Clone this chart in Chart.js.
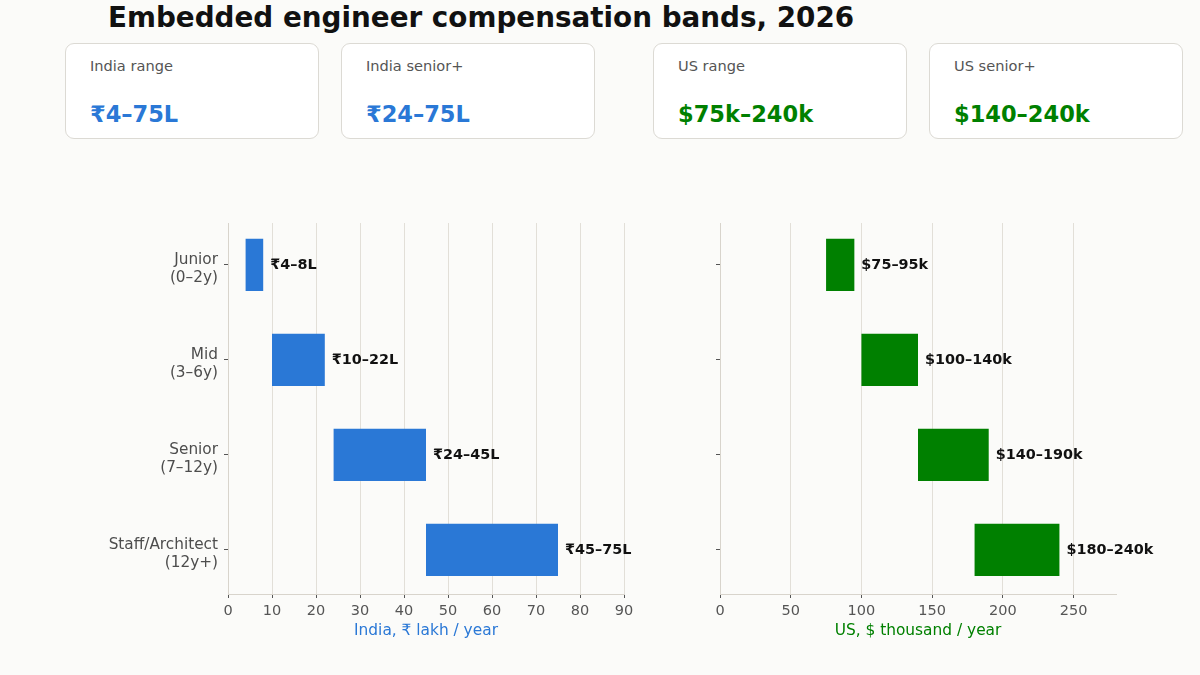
<!DOCTYPE html>
<html>
<head>
<meta charset="utf-8">
<script src="https://cdn.jsdelivr.net/npm/chart.js@4"></script>
<style>
  body { margin: 0; width: 1200px; height: 675px; background: #fbfbf9; font-family: "DejaVu Sans", sans-serif; position: relative; overflow: hidden; }
  h1 { position: absolute; left: 108px; top: 0; margin: 0; font-size: 27.8px; line-height: 36px; color: #111; font-weight: bold; }
  .card { position: absolute; top: 43px; width: 252px; height: 94px; background: #fff; border: 1px solid #dcdad4; border-radius: 9px; }
  .card .lab { position: absolute; left: 24px; top: 13px; font-size: 14.6px; color: #555; }
  .card .val { position: absolute; left: 24px; top: 57px; font-size: 22.5px; font-weight: bold; }
  .wrap { position: absolute; top: 210px; height: 430px; }
</style>
</head>
<body>
<h1>Embedded engineer compensation bands, 2026</h1>
<div id="cards"></div>
<div class="wrap" style="left:0;width:640px"><canvas id="india"></canvas></div>
<div class="wrap" style="left:640px;width:560px"><canvas id="us"></canvas></div>
<script>
const levels = [['Junior', '(0–2y)'], ['Mid', '(3–6y)'], ['Senior', '(7–12y)'], ['Staff/Architect', '(12y+)']];
const indiaLow = [4, 10, 24, 45];
const indiaHigh = [8, 22, 45, 75];
const usLow = [75, 100, 140, 180];
const usHigh = [95, 140, 190, 240];

const cardLabels = ['India range', 'India senior+', 'US range', 'US senior+'];
const cardValues = ['₹4–75L', '₹24–75L', '$75k–240k', '$140–240k'];
const cardLeft = [65, 341, 653, 929];
const cardColors = ['#2a78d6', '#2a78d6', '#008000', '#008000'];

const blue = '#2a78d6';
const green = '#008000';

const cardsEl = document.getElementById('cards');
cardLabels.forEach((t, i) => {
  const d = document.createElement('div');
  d.className = 'card';
  d.style.left = cardLeft[i] + 'px';
  d.innerHTML = '<div class="lab">' + t + '</div><div class="val" style="color:' + cardColors[i] + '">' + cardValues[i] + '</div>';
  cardsEl.appendChild(d);
});

Chart.defaults.font.family = '"DejaVu Sans", sans-serif';
Chart.defaults.animation = false;

// text at the end of each bar
const endLabels = {
  id: 'endLabels',
  afterDatasetsDraw(chart, args, opts) {
    const ctx = chart.ctx;
    const meta = chart.getDatasetMeta(0);
    ctx.save();
    ctx.font = 'bold 14.4px "DejaVu Sans", sans-serif';
    ctx.fillStyle = '#111';
    ctx.textBaseline = 'middle';
    ctx.textAlign = 'left';
    meta.data.forEach((bar, i) => {
      const v = chart.data.datasets[0].data[i];
      ctx.fillText(opts.fmt(v[0], v[1]), bar.x + 7, bar.y);
    });
    ctx.restore();
  }
};

// slightly tighter category margins than the default half-category offset
const catMargins = {
  id: 'catMargins',
  afterLayout(chart) {
    const y = chart.scales.y;
    y._startValue = -0.44;
    y._valueRange = 3 + 0.44 + 0.465;
  }
};

function makeChart(id, lows, highs, color, max, step, title, showLabels, yWidth, padRight, fmt) {
  return new Chart(document.getElementById(id), {
    type: 'bar',
    data: {
      labels: levels,
      datasets: [{
        data: lows.map((l, i) => [l, highs[i]]),
        backgroundColor: color,
        borderWidth: 0,
        categoryPercentage: 1,
        barPercentage: 0.55
      }]
    },
    options: {
      indexAxis: 'y',
      responsive: true,
      maintainAspectRatio: false,
      layout: { padding: { top: 13, right: padRight, left: 0, bottom: 0 } },
      plugins: {
        legend: { display: false },
        tooltip: { enabled: false },
        endLabels: { fmt: fmt }
      },
      scales: {
        x: {
          min: 0, max: max,
          ticks: { stepSize: step, color: '#555', font: { size: 14.5 }, padding: 5 },
          grid: { color: '#e2dfd8', tickLength: 4, tickColor: '#555' },
          border: { color: '#d8d4cc' },
          title: { display: true, text: title, color: color, font: { size: 15.4 }, padding: { top: 2, bottom: 0 } },
          afterBuildTicks(s) { s.ticks = s.ticks.filter(t => t.value % step === 0); },
          afterFit(s) { s.height = 46; s.paddingLeft = 0; s.paddingRight = 0; }
        },
        y: {
          ticks: { display: showLabels, color: '#4d4d4d', font: { size: 15.3, lineHeight: 1.2 }, padding: 6, labelOffset: 4 },
          grid: { drawOnChartArea: false, offset: false, tickLength: 4, tickColor: '#555' },
          border: { color: '#d8d4cc' },
          afterFit(s) { s.width = yWidth; s.paddingTop = 0; s.paddingBottom = 0; }
        }
      }
    },
    plugins: [endLabels, catMargins]
  });
}

makeChart('india', indiaLow, indiaHigh, blue, 90, 10, 'India, ₹ lakh / year', true, 228, 16,
  (a, b) => '₹' + a + '–' + b + 'L');
makeChart('us', usLow, usHigh, green, 280, 50, 'US, $ thousand / year', false, 80, 84,
  (a, b) => '$' + a + '–' + b + 'k');
</script>
</body>
</html>
